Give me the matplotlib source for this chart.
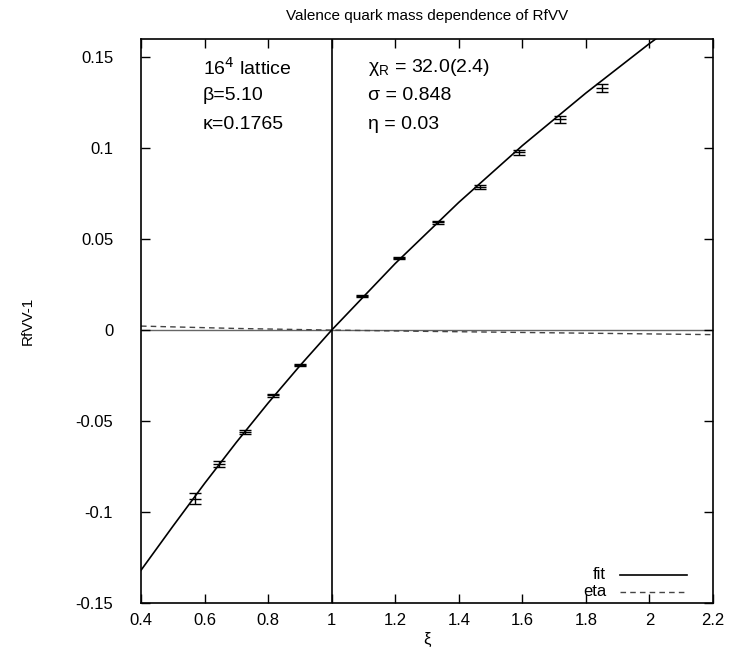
import matplotlib
matplotlib.use("Agg")
import matplotlib.pyplot as plt
from matplotlib.ticker import FormatStrFormatter

plt.rcParams['font.family'] = ['Liberation Sans', 'DejaVu Sans']
plt.rcParams['axes.unicode_minus'] = False

# measured points (xi, RfVV-1, error)
xi = [0.571, 0.645, 0.726, 0.816, 0.900, 1.096, 1.213, 1.336, 1.466, 1.589, 1.720, 1.851]
rf = [-0.0926, -0.0736, -0.0560, -0.0359, -0.0192, 0.0187, 0.0396, 0.0593, 0.0789, 0.0978, 0.1159, 0.1331]
err = [0.0032, 0.0018, 0.0011, 0.0008, 0.0006, 0.0005, 0.0006, 0.0009, 0.0011, 0.0014, 0.0019, 0.0023]

# fit curve
fit_x = [0.4, 0.5, 0.6, 0.7, 0.8, 0.9, 1.0, 1.2, 1.4, 1.6, 1.8, 2.0, 2.2]
fit_y = [-0.132, -0.1079, -0.0843, -0.0617, -0.0401, -0.0196, 0.0, 0.0366, 0.0702, 0.1014, 0.1303, 0.1575, 0.183]

# eta curve (dashed)
eta_x = [0.4, 0.7, 1.0, 1.3, 1.6, 1.9, 2.2]
eta_y = [0.0022, 0.0009, 0.0, -0.0007, -0.0013, -0.0019, -0.0025]

xticks = [0.4, 0.6, 0.8, 1.0, 1.2, 1.4, 1.6, 1.8, 2.0, 2.2]
yticks = [-0.15, -0.1, -0.05, 0.0, 0.05, 0.1, 0.15]

fig = plt.figure(figsize=(7.34, 6.49), dpi=100)
ax = fig.add_axes([0.1921, 0.0709, 0.7793, 0.869])

ax.axhline(0, color='#666666', lw=1.0, zorder=1)
ax.axvline(1.0, color='black', lw=1.2, zorder=1)

ax.plot(fit_x, fit_y, color='black', lw=1.2, zorder=3)
ax.plot(eta_x, eta_y, color='#444444', lw=1.0, ls=(0, (4, 3)), zorder=2)

ax.errorbar(xi, rf, yerr=err, fmt='_', color='black', ms=8, mew=1.0,
            elinewidth=1.0, capsize=4.5, capthick=1.0, zorder=4)

ax.set_xlim(0.4, 2.2)
ax.set_ylim(-0.15, 0.16)
ax.set_xticks(xticks)
ax.set_yticks(yticks)
ax.xaxis.set_major_formatter(FormatStrFormatter('%g'))
ax.yaxis.set_major_formatter(FormatStrFormatter('%g'))
ax.tick_params(direction='in', length=6.5, width=1.0, top=True, right=True,
               labelsize=12)
ax.tick_params(axis='y', pad=20)
ax.tick_params(axis='x', pad=7)
for s in ax.spines.values():
    s.set_linewidth(1.2)

ax.set_title('Valence quark mass dependence of RfVV', fontsize=11, pad=14)
ax.set_xlabel('ξ', fontsize=12, labelpad=3)
ax.set_ylabel('RfVV-1', fontsize=11, labelpad=29)

kw = dict(transform=ax.transAxes, fontsize=14, va='center', ha='left')
ax.text(0.108, 0.949, '16$^4$ lattice', **kw)
ax.text(0.108, 0.899, 'β=5.10', **kw)
ax.text(0.108, 0.849, 'κ=0.1765', **kw)
ax.text(0.397, 0.949, 'χ$_\\mathregular{R}$ = 32.0(2.4)', **kw)
ax.text(0.397, 0.899, 'σ = 0.848', **kw)
ax.text(0.397, 0.849, 'η = 0.03', **kw)

# legend drawn like gnuplot's
ax.text(0.813, 0.05, 'fit', transform=ax.transAxes, fontsize=12, ha='right', va='center')
ax.text(0.813, 0.02, 'eta', transform=ax.transAxes, fontsize=12, ha='right', va='center')
ax.plot([0.837, 0.955], [0.05, 0.05], transform=ax.transAxes, color='black', lw=1.2)
ax.plot([0.837, 0.955], [0.02, 0.02], transform=ax.transAxes, color='#444444',
        lw=1.0, ls=(0, (4, 3)))

fig.savefig('out.png', dpi=100)
